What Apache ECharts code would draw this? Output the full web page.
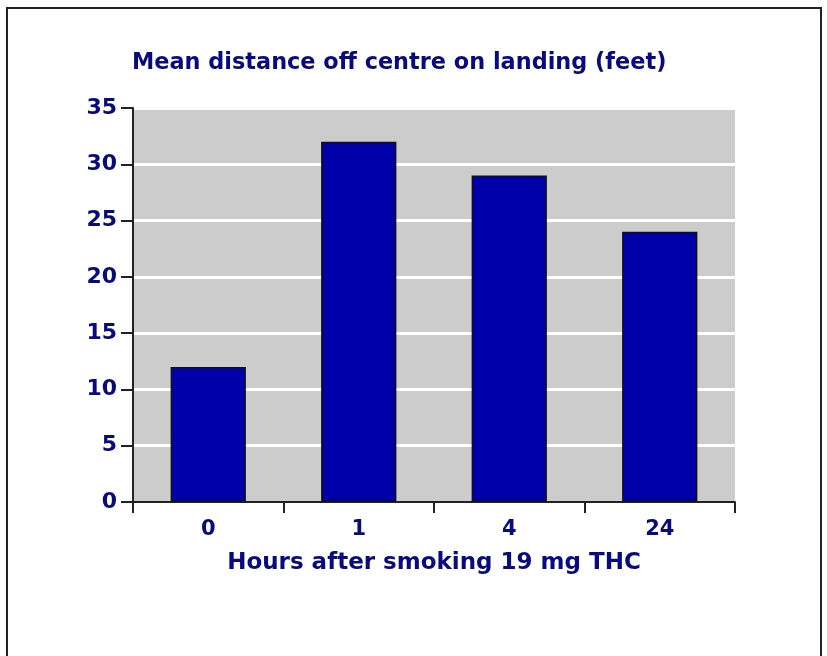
<!DOCTYPE html>
<html>
<head>
<meta charset="utf-8">
<script src="https://cdn.jsdelivr.net/npm/echarts@6/dist/echarts.min.js"></script>
<style>
html, body { margin: 0; padding: 0; background: #fff; }
#chart { width: 827px; height: 656px; }
</style>
</head>
<body>
<div id="chart"></div>
<script>
// data
var hours = ['0', '1', '4', '24']
var distance = [12, 32, 29, 24]
var yTicks = [0, 5, 10, 15, 20, 25, 30, 35]

var navy = '#0a0a80'
var font = 'DejaVu Sans, Verdana, sans-serif'

var chart = echarts.init(document.getElementById('chart'))
chart.setOption({
    animation: false,
    title: {
        text: 'Mean distance off centre on landing (feet)',
        left: 127,
        top: 47,
        textStyle: { color: navy, fontFamily: font, fontWeight: 'bold', fontSize: 22.4 }
    },
    graphic: [
        {
            type: 'rect',
            shape: { x: 7, y: 8, width: 814, height: 700 },
            style: { fill: 'none', stroke: '#222', lineWidth: 2 }
        }
    ],
    grid: {
        left: 133,
        right: 92,
        top: 108,
        bottom: 154,
        show: true,
        backgroundColor: '#cccccc',
        borderWidth: 0
    },
    xAxis: {
        type: 'category',
        data: hours,
        name: 'Hours after smoking 19 mg THC',
        nameLocation: 'middle',
        nameGap: 50,
        nameTextStyle: { color: navy, fontFamily: font, fontWeight: 'bold', fontSize: 23 },
        axisLine: { lineStyle: { color: '#222', width: 2 } },
        axisTick: { show: true, length: 11, lineStyle: { color: '#222', width: 2 } },
        axisLabel: { color: navy, fontFamily: font, fontWeight: 'bold', fontSize: 21, margin: 17 }
    },
    yAxis: {
        type: 'value',
        min: yTicks[0],
        max: yTicks[yTicks.length - 1],
        interval: 5,
        axisLine: { show: true, lineStyle: { color: '#222', width: 2 } },
        axisTick: { show: true, length: 12, lineStyle: { color: '#222', width: 2 } },
        axisLabel: { color: navy, fontFamily: font, fontWeight: 'bold', fontSize: 22, margin: 16 },
        splitLine: { show: true, lineStyle: { color: '#ffffff', width: 3 } }
    },
    series: [
        {
            type: 'bar',
            data: distance,
            barWidth: '50%',
            itemStyle: { color: '#0000aa', borderColor: '#111', borderWidth: 1.5 }
        }
    ]
})
</script>
</body>
</html>
